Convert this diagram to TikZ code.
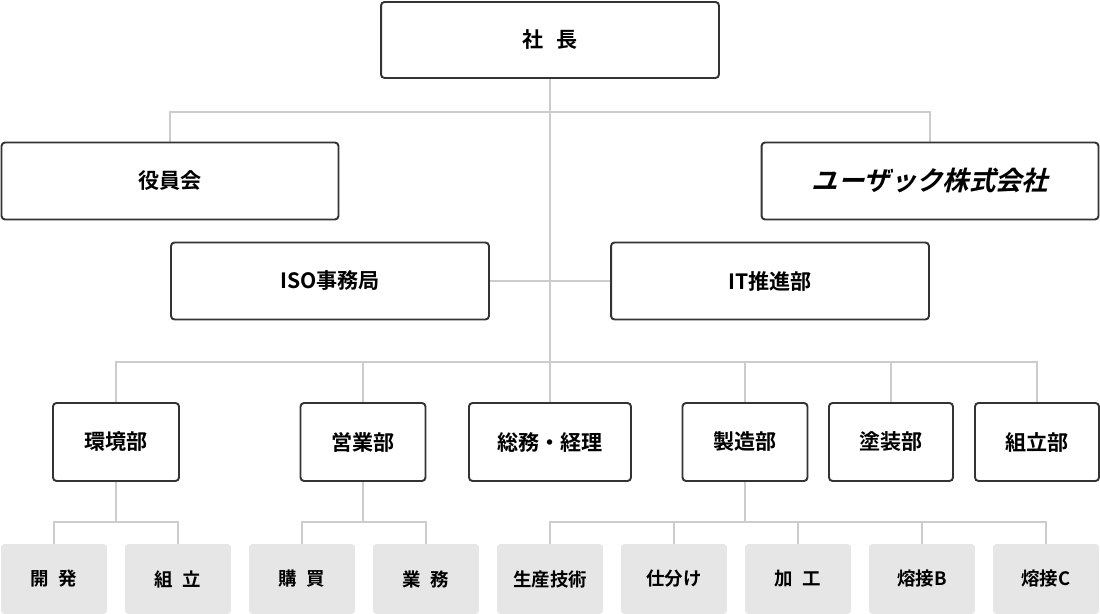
\documentclass[tikz,border=0pt]{standalone}
\usepackage{fontspec}
\newfontfamily\jp{Noto Sans CJK JP Bold}
\usetikzlibrary{positioning}
\definecolor{frame}{HTML}{333333}
\definecolor{wire}{HTML}{CCCCCC}
\definecolor{leaf}{HTML}{E6E6E6}

\begin{document}
\begin{tikzpicture}[
    x=0.02cm, y=-0.02cm,
    unit/.style={rectangle, draw=frame, line width=1.1pt, rounded corners=2pt, fill=white, font=\jp\fontsize{12}{14}\selectfont, inner sep=0pt},
    leafbox/.style={rectangle, fill=leaf, rounded corners=2pt, minimum width=2.12cm, minimum height=1.40cm, font=\jp\fontsize{10.5}{12}\selectfont, inner sep=0pt},
    line/.style={draw=wire, line width=1.6pt}
    ]
    \useasboundingbox (0,0) rectangle (1100,614);

    % lines first
    \path [line] (550,78) -- (550,362);
    \path [line] (170,143) -- (170,112) -- (930,112) -- (930,143);
    \path [line] (489,281) -- (611,281);
    \path [line] (116,403) -- (116,362) -- (1037,362) -- (1037,403);
    \foreach \x in {363,550,745,891} \path [line] (\x,362) -- (\x,403);
    \path [line] (116,481) -- (116,522);
    \path [line] (54,544) -- (54,522) -- (178,522) -- (178,544);
    \path [line] (363,481) -- (363,522);
    \path [line] (302,544) -- (302,522) -- (426,522) -- (426,544);
    \path [line] (745,481) -- (745,522);
    \path [line] (550,544) -- (550,522) -- (1046,522) -- (1046,544);
    \foreach \x in {674,798,922} \path [line] (\x,522) -- (\x,544);

    % top levels
    \node [unit, minimum width=6.76cm, minimum height=1.52cm] (president) at (550,40) {社\hspace{0.6em}長};
    \node [unit, minimum width=6.74cm, minimum height=1.54cm] (board) at (170,181) {役員会};
    \node [unit, minimum width=6.74cm, minimum height=1.54cm] (company) at (930,181) {\fontsize{15}{16}\selectfont\addfontfeature{FakeSlant=0.25}ユーザック株式会社};
    \node [unit, minimum width=6.36cm, minimum height=1.54cm] (iso) at (330,281) {ISO事務局};
    \node [unit, minimum width=6.36cm, minimum height=1.54cm] (it) at (770,281) {IT推進部};

    % departments
    \node [unit, minimum width=2.52cm, minimum height=1.56cm] (env) at (116,442) {環境部};
    \node [unit, minimum width=2.50cm, minimum height=1.56cm] (sales) at (363,442) {営業部};
    \node [unit, minimum width=3.24cm, minimum height=1.56cm] (admin) at (550,442) {総務・経理};
    \node [unit, minimum width=2.50cm, minimum height=1.56cm] (mfg) at (745,442) {製造部};
    \node [unit, minimum width=2.48cm, minimum height=1.56cm] (paint) at (891,442) {塗装部};
    \node [unit, minimum width=2.48cm, minimum height=1.56cm] (assy) at (1037,442) {組立部};

    % sections
    \node [leafbox] (dev) at (54,579) {開\hspace{0.5em}発};
    \node [leafbox] (build) at (178,579) {組\hspace{0.5em}立};
    \node [leafbox] (buy) at (302,579) {購\hspace{0.5em}買};
    \node [leafbox] (ops) at (426,579) {業\hspace{0.5em}務};
    \node [leafbox] (tech) at (550,579) {生産技術};
    \node [leafbox] (sort) at (674,579) {仕分け};
    \node [leafbox] (work) at (798,579) {加\hspace{0.5em}工};
    \node [leafbox] (weldb) at (922,579) {熔接B};
    \node [leafbox] (weldc) at (1046,579) {熔接C};
\end{tikzpicture}
\end{document}
